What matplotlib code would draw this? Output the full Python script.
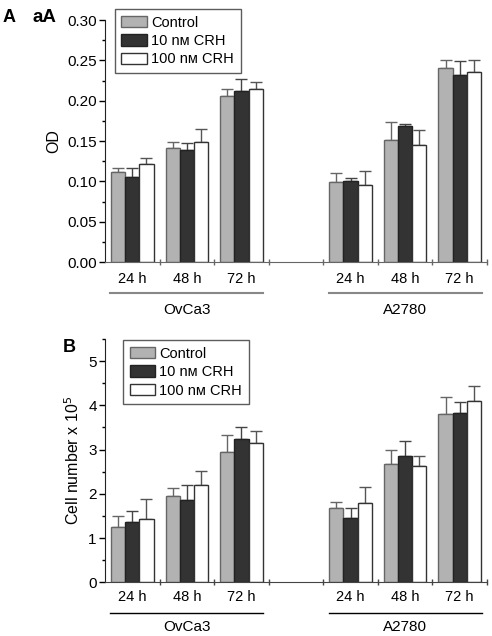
import matplotlib.pyplot as plt
from matplotlib.ticker import MultipleLocator, FixedLocator
import numpy as np

plt.rcParams['font.family'] = ['Liberation Sans', 'DejaVu Sans']

# data
cells = ["OvCa3", "A2780"]
times = ["24 h", "48 h", "72 h"]
series = ["Control", "10 nᴍ CRH", "100 nᴍ CRH"]

# panel A, OD (OvCa3 24/48/72 h, then A2780 24/48/72 h)
od_control = [0.111, 0.141, 0.206, 0.099, 0.151, 0.240]
od_10 = [0.106, 0.139, 0.212, 0.101, 0.169, 0.232]
od_100 = [0.122, 0.149, 0.214, 0.096, 0.145, 0.235]
od_control_err = [0.006, 0.008, 0.008, 0.011, 0.023, 0.011]
od_10_err = [0.010, 0.009, 0.015, 0.003, 0.002, 0.017]
od_100_err = [0.007, 0.016, 0.009, 0.017, 0.019, 0.016]

# panel B, cell number x 1e5
cn_control = [1.25, 1.94, 2.94, 1.67, 2.67, 3.80]
cn_10 = [1.36, 1.87, 3.24, 1.46, 2.85, 3.83]
cn_100 = [1.43, 2.19, 3.15, 1.80, 2.62, 4.09]
cn_control_err = [0.24, 0.19, 0.38, 0.14, 0.33, 0.40]
cn_10_err = [0.25, 0.34, 0.26, 0.23, 0.35, 0.25]
cn_100_err = [0.46, 0.33, 0.27, 0.35, 0.24, 0.34]

colors = ['#b2b2b2', '#333333', '#ffffff']
edges = ['#666666', '#222222', '#333333']
err_colors = ['#666666', '#444444', '#555555']

fig = plt.figure(figsize=(4.92, 6.36), dpi=100)

x = np.array([0, 1, 2, 4, 5, 6])
w = 0.26


def draw_panel(ax, vals, errs, ylim, major, minor, fmt, ylabel, underline_color, axis_color, offs):
    for i in range(3):
        ax.bar(x + (i - 1) * w, vals[i], w, color=colors[i], edgecolor=edges[i],
               linewidth=1.0, label=series[i], zorder=2)
        ax.errorbar(x + (i - 1) * w, vals[i], yerr=[np.zeros(6), errs[i]], fmt='none',
                    ecolor=err_colors[i], elinewidth=1.0, capsize=4, capthick=1.0, zorder=1)
    ax.set_xlim(-0.5, 6.5)
    ax.set_ylim(*ylim)
    ax.yaxis.set_major_locator(MultipleLocator(major))
    ax.yaxis.set_minor_locator(MultipleLocator(minor))
    ax.yaxis.set_major_formatter(fmt)
    ax.xaxis.set_major_locator(FixedLocator(np.arange(0.5, 7, 1.0)))
    ax.set_xticklabels([])
    ax.tick_params(axis='x', direction='inout', length=5, width=1, colors=axis_color)
    ax.tick_params(axis='y', which='major', direction='out', length=4, labelsize=11, width=1, pad=2)
    ax.tick_params(axis='y', which='minor', direction='out', length=2.5, width=1)
    for s in ['top', 'right']:
        ax.spines[s].set_visible(False)
    ax.spines['bottom'].set_color(axis_color)
    ax.spines['left'].set_color('#222222')
    ax.set_ylabel(ylabel, fontsize=11.5)
    # time labels and group underline
    trans = ax.get_xaxis_transform()
    for k, xi in enumerate(x):
        ax.text(xi, -offs[0], times[k % 3], transform=trans, ha='center', va='center', fontsize=10.5)
    for g, cell in enumerate(cells):
        x0 = x[3 * g] - 0.4
        x1 = x[3 * g + 2] + 0.4
        ax.plot([x0, x1], [-offs[1], -offs[1]], transform=trans, color=underline_color,
                lw=1.5 if underline_color != 'black' else 1.0, clip_on=False)
        ax.text((x0 + x1) / 2, -offs[2], cell, transform=trans, ha='center', va='center', fontsize=11)


def add_legend(ax, anchor):
    ax.legend(loc='upper left', bbox_to_anchor=anchor, fontsize=10.5, frameon=True,
              fancybox=False, edgecolor='#333333', handlelength=1.75, handleheight=0.8,
              borderpad=0.45, labelspacing=0.3, handletextpad=0.3, borderaxespad=0.0)


axA = fig.add_axes([0.2134, 0.588, 0.7764, 0.3805])
draw_panel(axA, [od_control, od_10, od_100], [od_control_err, od_10_err, od_100_err],
           (0, 0.30), 0.05, 0.025, '{x:.2f}', 'OD', '#888888', '#666666', (0.07, 0.13, 0.198))
add_legend(axA, (0.026, 1.045))
axA.yaxis.set_label_coords(-0.114, 0.5)

axB = fig.add_axes([0.2134, 0.0844, 0.7764, 0.3826])
draw_panel(axB, [cn_control, cn_10, cn_100], [cn_control_err, cn_10_err, cn_100_err],
           (0, 5.5), 1, 0.5, '{x:.0f}', 'Cell number x 10$^5$', 'black', '#444444', (0.062, 0.128, 0.185))
add_legend(axB, (0.047, 0.995))
axB.yaxis.set_label_coords(-0.06, 0.5)

fig.text(0.006, 0.972, "A", fontsize=13, fontweight='bold', va='center')
fig.text(0.066, 0.972, "aA", fontsize=13.5, fontweight='bold', va='center')
fig.text(0.127, 0.454, "B", fontsize=13, fontweight='bold', va='center')

fig.savefig("out.png", dpi=100)
